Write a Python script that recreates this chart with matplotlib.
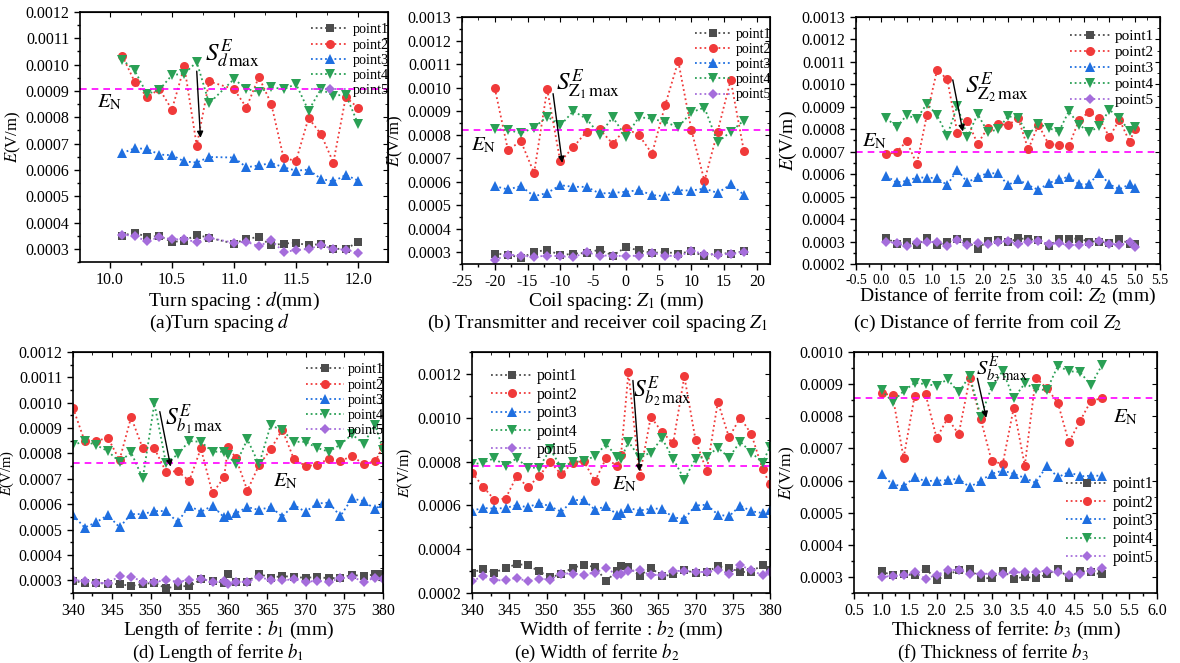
import numpy as np
import matplotlib
matplotlib.use("Agg")
import matplotlib.pyplot as plt
from matplotlib.ticker import MultipleLocator, FormatStrFormatter

plt.rcParams['font.family'] = 'serif'
plt.rcParams['font.serif'] = ['Liberation Serif', 'DejaVu Serif']
plt.rcParams['mathtext.fontset'] = 'stix'

# ---------------- data ----------------
names = ['point1', 'point2', 'point3', 'point4', 'point5']

# (a) turn spacing d
x_a = [10.1, 10.2, 10.3, 10.4, 10.5, 10.6, 10.7, 10.8, 11.0, 11.1, 11.2, 11.3, 11.4, 11.5, 11.6, 11.7, 11.8, 11.9, 12.0]
a_p1 = [0.000350, 0.000362, 0.000345, 0.000349, 0.000326, 0.000331, 0.000353, 0.000342, 0.000320, 0.000338,
        0.000345, 0.000313, 0.000320, 0.000323, 0.000313, 0.000319, 0.000300, 0.000300, 0.000326]
a_p2 = [0.001034, 0.000935, 0.000877, 0.000907, 0.000829, 0.000993, 0.000692, 0.000936, 0.000907, 0.000837,
        0.000953, 0.000851, 0.000644, 0.000635, 0.000797, 0.000736, 0.000628, 0.000877, 0.000835]
a_p3 = [0.000664, 0.000682, 0.000680, 0.000658, 0.000656, 0.000632, 0.000628, 0.000649, 0.000647, 0.000610,
        0.000617, 0.000626, 0.000610, 0.000597, 0.000601, 0.000566, 0.000556, 0.000581, 0.000559]
a_p4 = [0.001019, 0.000978, 0.000888, 0.000905, 0.000960, 0.000966, 0.001010, 0.000853, 0.000945, 0.000908,
        0.000896, 0.000914, 0.000907, 0.000926, 0.000825, 0.000907, 0.000882, 0.000886, 0.000774]
a_p5 = [0.000354, 0.000349, 0.000328, 0.000345, 0.000336, 0.000336, 0.000326, 0.000342, 0.000323, 0.000327,
        0.000310, 0.000333, 0.000288, 0.000295, 0.000300, 0.000313, 0.000300, 0.000297, 0.000285]
en_a = 0.000907

# (b) coil spacing Z1
x_b = [-20, -18, -16, -14, -12, -10, -8, -6, -4, -2, 0, 2, 4, 6, 8, 10, 12, 14, 16, 18]
b_p1 = [0.000294, 0.000290, 0.000276, 0.000300, 0.000311, 0.000287, 0.000294, 0.000297, 0.000311, 0.000286,
        0.000321, 0.000308, 0.000297, 0.000301, 0.000294, 0.000304, 0.000283, 0.000297, 0.000294, 0.000304]
b_p2 = [0.000998, 0.000736, 0.000771, 0.000637, 0.000993, 0.000686, 0.000747, 0.000813, 0.000823, 0.000761,
        0.000827, 0.000798, 0.000719, 0.000925, 0.001112, 0.000820, 0.000603, 0.000813, 0.001032, 0.000732]
b_p3 = [0.000581, 0.000567, 0.000581, 0.000538, 0.000552, 0.000585, 0.000578, 0.000578, 0.000550, 0.000552,
        0.000557, 0.000564, 0.000543, 0.000538, 0.000564, 0.000562, 0.000571, 0.000552, 0.000588, 0.000545]
b_p4 = [0.000823, 0.000820, 0.000806, 0.000830, 0.000877, 0.000839, 0.000900, 0.000867, 0.000800, 0.000874,
        0.000792, 0.000874, 0.000868, 0.000853, 0.000832, 0.000895, 0.000915, 0.000768, 0.000812, 0.000860]
b_p5 = [0.000266, 0.000290, 0.000286, 0.000280, 0.000286, 0.000283, 0.000279, 0.000300, 0.000286, 0.000286,
        0.000283, 0.000286, 0.000297, 0.000286, 0.000283, 0.000304, 0.000294, 0.000290, 0.000293, 0.000300]
en_b = 0.00082

# (c) distance of ferrite from coil Z2
x_c = [0.1, 0.3, 0.5, 0.7, 0.9, 1.1, 1.3, 1.5, 1.7, 1.9, 2.1, 2.3, 2.5, 2.7, 2.9, 3.1, 3.3, 3.5, 3.7, 3.9,
       4.1, 4.3, 4.5, 4.7, 4.9, 5.0]
c_p1 = [0.000318, 0.000288, 0.000299, 0.000285, 0.000315, 0.000285, 0.000296, 0.000313, 0.000300, 0.000266,
        0.000303, 0.000306, 0.000296, 0.000315, 0.000310, 0.000307, 0.000281, 0.000310, 0.000313, 0.000313,
        0.000300, 0.000300, 0.000293, 0.000310, 0.000291, 0.000291]
c_p2 = [0.000688, 0.000698, 0.000747, 0.000644, 0.000865, 0.001064, 0.001023, 0.000784, 0.000838, 0.000735,
        0.000806, 0.000825, 0.000818, 0.000850, 0.000710, 0.000820, 0.000735, 0.000729, 0.000725, 0.000840,
        0.000878, 0.000850, 0.000765, 0.000843, 0.000744, 0.000799]
c_p3 = [0.000592, 0.000563, 0.000570, 0.000585, 0.000585, 0.000582, 0.000552, 0.000619, 0.000563, 0.000589,
        0.000604, 0.000604, 0.000551, 0.000577, 0.000551, 0.000530, 0.000560, 0.000577, 0.000588, 0.000555,
        0.000555, 0.000607, 0.000555, 0.000533, 0.000555, 0.000540]
c_p4 = [0.000850, 0.000810, 0.000862, 0.000847, 0.000914, 0.000862, 0.000772, 0.000905, 0.000766, 0.000868,
        0.000788, 0.000799, 0.000858, 0.000850, 0.000776, 0.000824, 0.000806, 0.000788, 0.000880, 0.000821,
        0.000787, 0.000813, 0.000887, 0.000850, 0.000791, 0.000809]
c_p5 = [0.000300, 0.000293, 0.000278, 0.000296, 0.000296, 0.000300, 0.000281, 0.000307, 0.000285, 0.000293,
        0.000291, 0.000299, 0.000303, 0.000288, 0.000296, 0.000303, 0.000288, 0.000293, 0.000284, 0.000285,
        0.000291, 0.000303, 0.000291, 0.000285, 0.000296, 0.000274]
en_c = 0.00070

# (d) length of ferrite b1 and (e) width of ferrite b2 share the same x
x_d = [340, 341.5, 343, 344.5, 346, 347.5, 349, 350.5, 352, 353.5, 355, 356.5, 358, 359.5, 360, 361, 362.5,
       364, 365.5, 367, 368.5, 370, 371.5, 373, 374.5, 376, 377.5, 379, 380]
d_p1 = [0.000297, 0.000291, 0.000291, 0.000285, 0.000285, 0.000278, 0.000285, 0.000291, 0.000268, 0.000278,
        0.000276, 0.000304, 0.000297, 0.000291, 0.000326, 0.000294, 0.000295, 0.000326, 0.000310, 0.000317,
        0.000313, 0.000310, 0.000313, 0.000308, 0.000310, 0.000321, 0.000317, 0.000323, 0.000326]
d_p2 = [0.000980, 0.000849, 0.000849, 0.000862, 0.000774, 0.000943, 0.000820, 0.000820, 0.000728, 0.000730,
        0.000692, 0.000820, 0.000643, 0.000706, 0.000826, 0.000783, 0.000654, 0.000754, 0.000816, 0.000894,
        0.000778, 0.000751, 0.000754, 0.000780, 0.000770, 0.000790, 0.000758, 0.000770, 0.000826]
d_p3 = [0.000557, 0.000508, 0.000529, 0.000557, 0.000509, 0.000561, 0.000561, 0.000573, 0.000573, 0.000529,
        0.000594, 0.000570, 0.000594, 0.000548, 0.000557, 0.000564, 0.000589, 0.000577, 0.000590, 0.000551,
        0.000597, 0.000570, 0.000603, 0.000606, 0.000553, 0.000623, 0.000612, 0.000581, 0.000603]
d_p4 = [0.000833, 0.000849, 0.000833, 0.000809, 0.000767, 0.000804, 0.000702, 0.000997, 0.000761, 0.000796,
        0.000849, 0.000846, 0.000807, 0.000807, 0.000793, 0.000757, 0.000856, 0.000757, 0.000911, 0.000892,
        0.000846, 0.000846, 0.000822, 0.000807, 0.000835, 0.000875, 0.000839, 0.000914, 0.000813]
d_p5 = [0.000301, 0.000297, 0.000291, 0.000288, 0.000317, 0.000314, 0.000295, 0.000294, 0.000300, 0.000295,
        0.000300, 0.000306, 0.000295, 0.000297, 0.000287, 0.000294, 0.000294, 0.000313, 0.000301, 0.000300,
        0.000304, 0.000295, 0.000297, 0.000295, 0.000308, 0.000313, 0.000295, 0.000310, 0.000304]
en_d = 0.000763

x_e = x_d
e_p1 = [0.000292, 0.000311, 0.000292, 0.000315, 0.000331, 0.000328, 0.000299, 0.000273, 0.000285, 0.000316,
        0.000327, 0.000319, 0.000255, 0.000301, 0.000322, 0.000319, 0.000278, 0.000316, 0.000276, 0.000285,
        0.000304, 0.000292, 0.000296, 0.000322, 0.000315, 0.000296, 0.000296, 0.000330, 0.000307]
e_p2 = [0.000749, 0.000685, 0.000626, 0.000631, 0.000733, 0.000683, 0.000733, 0.000798, 0.000741, 0.000795,
        0.000802, 0.000711, 0.000815, 0.000779, 0.000828, 0.001208, 0.000733, 0.001004, 0.000935, 0.000883,
        0.001189, 0.000900, 0.000756, 0.001073, 0.000910, 0.001001, 0.000925, 0.000764, 0.000698]
e_p3 = [0.000576, 0.000588, 0.000585, 0.000588, 0.000601, 0.000591, 0.000611, 0.000596, 0.000570, 0.000623,
        0.000626, 0.000580, 0.000596, 0.000558, 0.000565, 0.000588, 0.000576, 0.000585, 0.000585, 0.000545,
        0.000538, 0.000599, 0.000603, 0.000558, 0.000550, 0.000599, 0.000573, 0.000565, 0.000580]
e_p4 = [0.000787, 0.000795, 0.000815, 0.000779, 0.000815, 0.000772, 0.000772, 0.000856, 0.000772, 0.000798,
        0.000802, 0.000825, 0.000879, 0.000821, 0.000810, 0.000891, 0.000818, 0.000841, 0.000906, 0.000813,
        0.000718, 0.000813, 0.000822, 0.000863, 0.000818, 0.000891, 0.000841, 0.000795, 0.000867]
e_p5 = [0.000255, 0.000276, 0.000258, 0.000258, 0.000269, 0.000253, 0.000266, 0.000261, 0.000289, 0.000289,
        0.000284, 0.000293, 0.000315, 0.000281, 0.000285, 0.000299, 0.000304, 0.000281, 0.000284, 0.000301,
        0.000301, 0.000296, 0.000296, 0.000304, 0.000289, 0.000327, 0.000304, 0.000281, 0.000296]
en_e = 0.00078

# (f) thickness of ferrite b3
x_f = [1.0, 1.2, 1.4, 1.6, 1.8, 2.0, 2.2, 2.4, 2.6, 2.8, 3.0, 3.2, 3.4, 3.6, 3.8, 4.0, 4.2, 4.4, 4.6, 4.8, 5.0]
f_p1 = [0.000317, 0.000305, 0.000308, 0.000306, 0.000326, 0.000291, 0.000306, 0.000322, 0.000324, 0.000296,
        0.000296, 0.000319, 0.000295, 0.000300, 0.000296, 0.000308, 0.000324, 0.000298, 0.000319, 0.000314, 0.000308]
f_p2 = [0.000871, 0.000866, 0.000670, 0.000863, 0.000868, 0.000732, 0.000794, 0.000744, 0.000918, 0.000791,
        0.000660, 0.000652, 0.000827, 0.000646, 0.000920, 0.000887, 0.000842, 0.000719, 0.000784, 0.000848, 0.000856]
f_p3 = [0.000619, 0.000588, 0.000582, 0.000610, 0.000598, 0.000600, 0.000601, 0.000606, 0.000579, 0.000600,
        0.000621, 0.000631, 0.000621, 0.000608, 0.000593, 0.000646, 0.000610, 0.000627, 0.000613, 0.000615, 0.000615]
f_p4 = [0.000881, 0.000845, 0.000878, 0.000904, 0.000900, 0.000895, 0.000915, 0.000874, 0.000926, 0.000799,
        0.000892, 0.000941, 0.000856, 0.000902, 0.000885, 0.000881, 0.000957, 0.000940, 0.000938, 0.000897, 0.000959]
f_p5 = [0.000300, 0.000303, 0.000306, 0.000314, 0.000295, 0.000306, 0.000321, 0.000322, 0.000310, 0.000310,
        0.000310, 0.000310, 0.000314, 0.000314, 0.000316, 0.000319, 0.000314, 0.000306, 0.000310, 0.000317, 0.000327]
en_f = 0.000856

# ---------------- style ----------------
colors = ['#4d4d4d', '#f03a3a', '#1f6fe0', '#2aa055', '#a56ddb']
markers = ['s', 'o', '^', 'v', 'D']
msizes = [5.5, 6.5, 7, 7, 5.5]

W, H = 1180, 663
fig = plt.figure(figsize=(W / 100, H / 100), dpi=100)


def rect(l, t, r, b):
    return [l / W, 1 - b / H, (r - l) / W, (b - t) / H]


def panel(ax, x, ys, en, xlim, ylim, xstep, ystep, xfmt, ylab_size, xtick_size=11.5):
    for y, c, m, ms, n in zip(ys, colors, markers, msizes, names):
        ax.plot(x, y, linestyle=(0, (1, 1.6)), lw=1.3, color=c, marker=m, ms=ms,
                markeredgewidth=0, label=n)
    ax.axhline(en, color='#ff00ff', lw=1.2, ls=(0, (4, 3)))
    ax.set_xlim(*xlim)
    ax.set_ylim(*ylim)
    ax.xaxis.set_major_locator(MultipleLocator(xstep))
    ax.xaxis.set_minor_locator(MultipleLocator(xstep / 2))
    ax.yaxis.set_major_locator(MultipleLocator(ystep))
    ax.yaxis.set_minor_locator(MultipleLocator(ystep / 2))
    ax.xaxis.set_major_formatter(FormatStrFormatter(xfmt))
    ax.yaxis.set_major_formatter(FormatStrFormatter('%.4f'))
    ax.tick_params(which='both', direction='out', top=False, right=False, labelsize=11.5, width=1)
    ax.tick_params(axis='x', labelsize=xtick_size)
    ax.tick_params(which='major', length=4)
    ax.tick_params(which='minor', length=2.5)
    for s in ax.spines.values():
        s.set_linewidth(1.2)
    sec = ax.secondary_xaxis('top')
    sec.tick_params(which='both', direction='in', labeltop=False)
    sec.xaxis.set_major_locator(MultipleLocator(xstep))
    sec.xaxis.set_minor_locator(MultipleLocator(xstep / 2))
    sec.set_xticklabels([])
    sec2 = ax.secondary_yaxis('right')
    sec2.tick_params(which='both', direction='in', labelright=False)
    sec2.yaxis.set_major_locator(MultipleLocator(ystep))
    sec2.yaxis.set_minor_locator(MultipleLocator(ystep / 2))
    sec2.set_yticklabels([])
    ax.set_ylabel('$E$(V/m)', fontsize=ylab_size, labelpad=2)


def arrow(ax, tail, head):
    ax.annotate('', xy=head, xytext=tail,
                arrowprops=dict(arrowstyle='-|>', color='k', lw=1, mutation_scale=9,
                                shrinkA=0, shrinkB=0))


def legend(ax, size, **kw):
    ax.legend(frameon=False, fontsize=size, handlelength=2.6, labelspacing=0.15,
              handletextpad=0.3, borderpad=0.3, **kw)


# (a)
ax = fig.add_axes(rect(80, 12, 388, 262))
panel(ax, x_a, [a_p1, a_p2, a_p3, a_p4, a_p5], en_a, (9.76, 12.24), (0.00025, 0.0012), 0.5, 0.0001, '%.1f', 12)
ax.set_xlabel('Turn spacing : $d$(mm)', fontsize=14, labelpad=1)
legend(ax, 10.3, loc='upper right', bbox_to_anchor=(1.04, 1.0))
arrow(ax, (10.70, 0.000975), (10.73, 0.000722))
ax.text(10.77, 0.00104, r'$S^{E}_{d\,\mathrm{max}}$', fontsize=18, va='center')
ax.text(9.9, 0.000858, r'$E_{\mathrm{N}}$', fontsize=15, va='center')

# (b)
ax = fig.add_axes(rect(462, 17, 770, 264))
panel(ax, x_b, [b_p1, b_p2, b_p3, b_p4, b_p5], en_b, (-25, 22), (0.00025, 0.0013), 5, 0.0001, '%d', 12)
ax.set_xlabel('Coil spacing: $Z_1$ (mm)', fontsize=14, labelpad=0)
legend(ax, 10.0, loc='upper right', bbox_to_anchor=(1.04, 1.0))
arrow(ax, (-11.1, 0.000974), (-9.7, 0.000680))
ax.text(-10.6, 0.00101, r'$S^{E}_{\mathrm{Z}_1\,\mathrm{max}}$', fontsize=18, va='center')
ax.text(-23.7, 0.000752, r'$E_{\mathrm{N}}$', fontsize=15, va='center')

# (c)
ax = fig.add_axes(rect(856, 17, 1160, 264))
panel(ax, x_c, [c_p1, c_p2, c_p3, c_p4, c_p5], en_c, (-0.5, 5.5), (0.0002, 0.0013), 0.5, 0.0001, '%.1f', 14,
      xtick_size=10)
ax.set_xlabel('Distance of ferrite from coil: $Z_2$ (mm)', fontsize=14, labelpad=-1)
legend(ax, 11.0, loc='upper right', bbox_to_anchor=(1.02, 1.0))
arrow(ax, (1.41, 0.00102), (1.61, 0.000790))
ax.text(1.66, 0.000985, r'$S^{E}_{\mathrm{Z}_2\,\mathrm{max}}$', fontsize=18, va='center')
ax.text(-0.38, 0.000745, r'$E_{\mathrm{N}}$', fontsize=15, va='center')

# (d)
ax = fig.add_axes(rect(73, 352, 383, 593))
panel(ax, x_d, [d_p1, d_p2, d_p3, d_p4, d_p5], en_d, (340, 380), (0.00025, 0.0012), 5, 0.0001, '%d', 10.5)
ax.set_xlabel('Length of ferrite : $b_1$ (mm)', fontsize=14, labelpad=-0.5)
legend(ax, 10.3, loc='upper right', bbox_to_anchor=(1.04, 1.0))
arrow(ax, (351.2, 0.000965), (352.6, 0.000748))
ax.text(351.9, 0.000935, r'$S^{E}_{b_1\,\mathrm{max}}$', fontsize=17, va='center')
ax.text(365.8, 0.000690, r'$E_{\mathrm{N}}$', fontsize=15, va='center')

# (e)
ax = fig.add_axes(rect(472, 352, 770, 593))
panel(ax, x_e, [e_p1, e_p2, e_p3, e_p4, e_p5], en_e, (340, 380), (0.0002, 0.0013), 5, 0.0002, '%d', 11.5)
ax.set_xlabel('Width of ferrite : $b_2$ (mm)', fontsize=14, labelpad=-0.5)
legend(ax, 11.5, loc='upper left', bbox_to_anchor=(0.02, 0.985))
arrow(ax, (361.6, 0.00117), (362.5, 0.000755))
ax.text(361.6, 0.00112, r'$S^{E}_{b_2\,\mathrm{max}}$', fontsize=17, va='center')
ax.text(358.8, 0.000695, r'$E_{\mathrm{N}}$', fontsize=15, va='center')

# (f)
ax = fig.add_axes(rect(854, 352, 1157, 593))
panel(ax, x_f, [f_p1, f_p2, f_p3, f_p4, f_p5], en_f, (0.5, 6.0), (0.00025, 0.0010), 0.5, 0.0001, '%.1f', 12.5)
ax.set_xlabel('Thickness of ferrite: $b_3$ (mm)', fontsize=14, labelpad=-0.5)
legend(ax, 11.5, loc='lower right', bbox_to_anchor=(1.03, 0.06))
arrow(ax, (2.74, 0.000918), (2.90, 0.000795))
ax.text(2.72, 0.000945, r'$S^{E}_{b_3\,\mathrm{max}}$', fontsize=15, va='center')
ax.text(5.2, 0.000795, r'$E_{\mathrm{N}}$', fontsize=15, va='center')

# panel captions
caps = [(220, 323, '(a)Turn spacing $d$', 14),
        (597, 323, '(b) Transmitter and receiver coil spacing $Z_1$', 14),
        (988, 323, '(c) Distance of ferrite from coil $Z_2$', 14),
        (218, 653, '(d) Length of ferrite $b_1$', 13.5),
        (597, 653, '(e) Width of ferrite $b_2$', 13.5),
        (993, 653, '(f) Thickness of ferrite $b_3$', 13.5)]
for cx, cy, t, fs in caps:
    fig.text(cx / W, 1 - cy / H, t, ha='center', va='center', fontsize=fs)

fig.savefig('out.png', dpi=100)
